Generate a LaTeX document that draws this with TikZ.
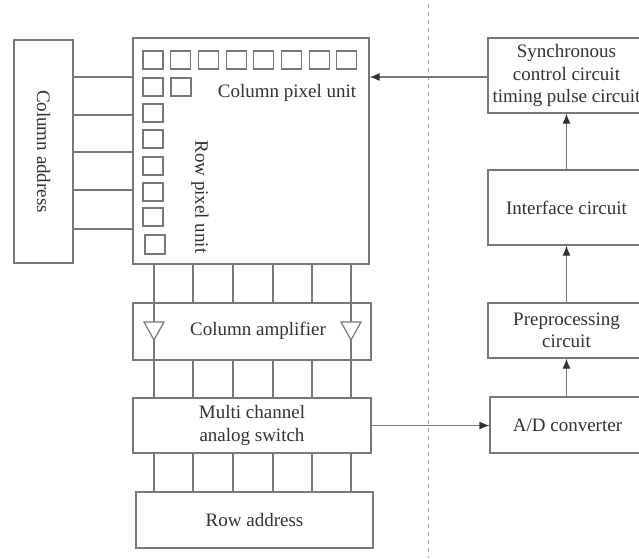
\documentclass[tikz,border=0pt]{standalone}
\usepackage{fontspec}
\setmainfont{Liberation Serif}
\usetikzlibrary{arrows.meta}

\definecolor{wiregray}{RGB}{120,120,120}
\definecolor{inkgray}{RGB}{50,50,50}

\tikzset{
  blockbox/.style={draw=wiregray, line width=1.2pt, fill=white, inner sep=0pt, align=center,
    text=inkgray, font=\fontsize{19}{22.5}\selectfont},
  pixcell/.style={draw=wiregray, line width=1.1pt},
  wire/.style={draw=wiregray, line width=1.2pt},
  sigarrow/.style={wire, -{Latex[length=10pt, width=8pt, color=inkgray]}},
  lbl/.style={text=inkgray, inner sep=0pt, font=\fontsize{19}{22.5}\selectfont},
}

\begin{document}
\begin{tikzpicture}[x=1pt, y=-1pt]
		\useasboundingbox (0,0) rectangle (639,558);
		\clip (0,0) rectangle (639,558);
		% Paths, nodes and wires:
		\draw[wiregray!70, line width=1pt, dash pattern=on 4pt off 4pt] (428,4) -- (428,558);
		\node[blockbox, minimum width=59pt, minimum height=223pt] (coladdr) at (43.5,151.5) {};
		\node[lbl, rotate=-90] (coladdrtext) at (coladdr.center) {Column address};
		\node[blockbox, minimum width=236pt, minimum height=226pt] (pixel) at (251,151) {};
		\node[blockbox, minimum width=238pt, minimum height=57pt] (amp) at (252,331.5) {};
		\node[blockbox, minimum width=238pt, minimum height=55pt] (mux) at (252,425.5) {Multi channel\\analog switch};
		\node[blockbox, minimum width=237pt, minimum height=56pt] (rowaddr) at (254.5,520) {Row address};
		\node[blockbox, minimum width=157pt, minimum height=75pt] (sync) at (566.5,75.5) {Synchronous\\control circuit\\timing pulse circuit};
		\node[blockbox, minimum width=157pt, minimum height=75pt] (iface) at (566.5,207.5) {Interface circuit};
		\node[blockbox, minimum width=157pt, minimum height=55pt] (prep) at (566.5,330.5) {Preprocessing\\circuit};
		\node[blockbox, minimum width=155pt, minimum height=56pt] (adc) at (567.5,425) {A/D converter};
		% pixel cells
		\foreach \i in {0,...,7}
			\draw[pixcell] (143+27.7*\i,51) rectangle ++(20,18);
		\draw[pixcell] (171,78) rectangle ++(20,18);
		\foreach \y in {78,104,130,157,183,208}
			\draw[pixcell] (143,\y) rectangle ++(20,18);
		\draw[pixcell] (145,235) rectangle ++(20,19);
		\node[lbl] (colpix) at (287,93) {Column pixel unit};
		\node[lbl, rotate=-90] (rowpix) at (200,197) {Row pixel unit};
		% address lines
		\foreach \y in {77,115,152,190,229}
			\draw[wire] (coladdr.east |- 0,\y) -- (pixel.west |- 0,\y);
		\foreach \x in {193,233,273,312}
			\draw[wire] (pixel.south -| \x,0) -- (amp.north -| \x,0);
		\foreach \x in {193,233,273,312}
			\draw[wire] (amp.south -| \x,0) -- (mux.north -| \x,0);
		\foreach \x in {154,193,233,273,312,351}
			\draw[wire] (mux.south -| \x,0) -- (rowaddr.north -| \x,0);
		\foreach \x/\n in {154/ampl,351/ampr} {
			\draw[wire] (pixel.south -| \x,0) -- (mux.north -| \x,0);
			\draw[wire, fill=white] (\x-10,322) -- (\x+10,322) -- (\x,340) -- cycle;
		}
		\node[lbl] (amptext) at (258,331) {Column amplifier};
		% signal path
		\draw[sigarrow] (mux.east) -- (adc.west |- mux.east);
		\draw[sigarrow] (adc.north -| prep.south) -- (prep.south);
		\draw[sigarrow] (prep.north) -- (iface.south);
		\draw[sigarrow] (iface.north) -- (sync.south);
		\draw[sigarrow] (sync.west |- 0,77) -- (pixel.east |- 0,77);
	\end{tikzpicture}
\end{document}
